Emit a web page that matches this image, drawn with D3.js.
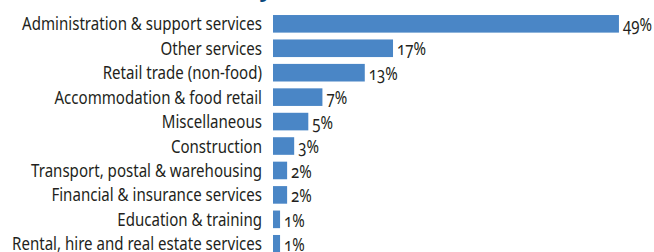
<!DOCTYPE html>
<html>
<head>
<meta charset="utf-8">
<script src="https://cdn.jsdelivr.net/npm/d3@7"></script>
<style>
  html, body { margin: 0; padding: 0; background: #fff; }
  svg { display: block; }
  .lbl { font-family: "Noto Sans", "Open Sans", sans-serif; font-size: 18px; fill: #231f20; font-feature-settings: "onum" 1; }
</style>
</head>
<body>
<svg id="chart" width="654" height="252"></svg>
<script>
const categories = [
  "Administration & support services",
  "Other services",
  "Retail trade (non-food)",
  "Accommodation & food retail",
  "Miscellaneous ",
  "Construction",
  "Transport, postal & warehousing",
  "Financial & insurance services",
  "Education & training",
  "Rental, hire and real estate services"
];
const values = [49, 17, 13, 7, 5, 3, 2, 2, 1, 1];
const valueLabels = ["49%", "17%", "13%", "7%", "5%", "3%", "2%", "2%", "1%", "1%"];
const titleText = "Industry";

const svg = d3.select("#chart");
const data = categories.map((c, i) => ({ cat: c, v: values[i], lab: valueLabels[i] }));

const x = d3.scaleLinear().domain([0, 50]).range([273, 626]);
const y = d3.scaleBand().domain(categories).range([11.6, 256]).paddingInner(0.28).paddingOuter(0.14);

// cut-off title (only a descender shows in the frame)
svg.append("text")
  .attr("x", 272).attr("y", -3)
  .attr("text-anchor", "end")
  .attr("font-family", "Noto Sans, sans-serif")
  .attr("font-weight", "bold")
  .attr("font-size", 22)
  .attr("fill", "#0d4a7c")
  .text(titleText);

svg.append("g").selectAll("rect")
  .data(data).join("rect")
  .attr("x", x(0))
  .attr("y", d => y(d.cat))
  .attr("width", d => x(d.v) - x(0))
  .attr("height", y.bandwidth())
  .attr("fill", "#4a86c6");

const yAxis = d3.axisLeft(y).tickSize(0).tickPadding(0);
const ag = svg.append("g").attr("transform", `translate(${x(0) - 11},0)`).call(yAxis);
ag.select(".domain").remove();
const catTexts = ag.selectAll("text").attr("class", "lbl")
  .attr("font-size", null).attr("font-family", null).attr("fill", null)
  .attr("text-anchor", "end").attr("x", 0)
  .attr("dy", "0.36em");

// condense glyphs horizontally to mimic the condensed face
const k = 240 / catTexts.nodes()[0].getComputedTextLength();
catTexts.attr("transform", `scale(${k},1)`);

const valG = svg.append("g").selectAll("g")
  .data(data).join("g")
  .attr("transform", d => `translate(${x(d.v) + 4},${y(d.cat) + y.bandwidth() / 2})`);
valG.append("text")
  .attr("class", "lbl")
  .attr("dy", "0.40em")
  .attr("transform", `scale(${k},1)`)
  .text(d => d.lab);
</script>
</body>
</html>
